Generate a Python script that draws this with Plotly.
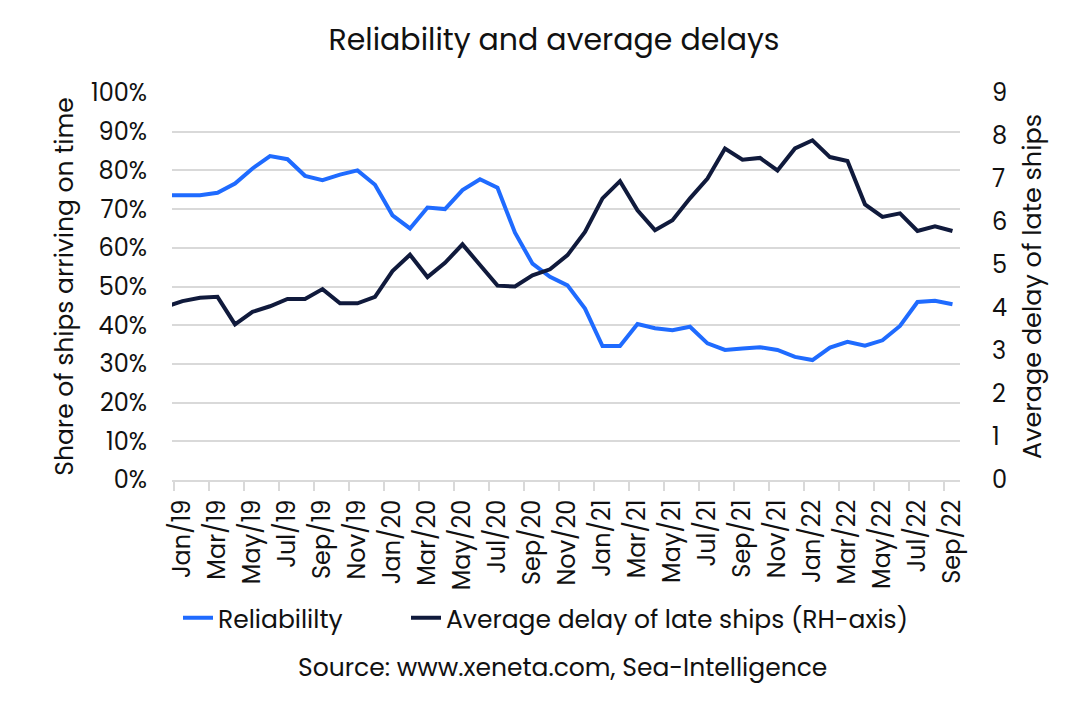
import plotly.graph_objects as go

# months on the category axis (Dec/18 sits just outside the left edge, the line runs into it)
months = ["Dec/18",
          "Jan/19", "Feb/19", "Mar/19", "Apr/19", "May/19", "Jun/19", "Jul/19", "Aug/19", "Sep/19", "Oct/19", "Nov/19", "Dec/19",
          "Jan/20", "Feb/20", "Mar/20", "Apr/20", "May/20", "Jun/20", "Jul/20", "Aug/20", "Sep/20", "Oct/20", "Nov/20", "Dec/20",
          "Jan/21", "Feb/21", "Mar/21", "Apr/21", "May/21", "Jun/21", "Jul/21", "Aug/21", "Sep/21", "Oct/21", "Nov/21", "Dec/21",
          "Jan/22", "Feb/22", "Mar/22", "Apr/22", "May/22", "Jun/22", "Jul/22", "Aug/22", "Sep/22"]

# share of ships arriving on time
reliability = [0.736,
               0.736, 0.736, 0.742, 0.766, 0.805, 0.837, 0.829, 0.786, 0.775, 0.789, 0.800, 0.763,
               0.684, 0.650, 0.704, 0.700, 0.749, 0.777, 0.755, 0.639, 0.559, 0.525, 0.503, 0.443,
               0.346, 0.346, 0.403, 0.392, 0.387, 0.396, 0.353, 0.336, 0.340, 0.343, 0.336, 0.318,
               0.310, 0.342, 0.357, 0.347, 0.361, 0.398, 0.460, 0.463, 0.454]

# average delay of late ships (days, right axis)
avg_delay = [4.02,
             4.16, 4.24, 4.26, 3.62, 3.91, 4.04, 4.21, 4.21, 4.44, 4.11, 4.11, 4.26,
             4.86, 5.24, 4.72, 5.05, 5.48, 5.00, 4.52, 4.50, 4.76, 4.90, 5.23, 5.77,
             6.55, 6.95, 6.27, 5.81, 6.04, 6.55, 7.01, 7.71, 7.45, 7.49, 7.20, 7.71,
             7.90, 7.51, 7.42, 6.41, 6.12, 6.20, 5.79, 5.90, 5.79]

label_months = months[1::2]

BLUE = "#1F6BFF"
NAVY = "#101A3C"
GRID = "#D9D9D9"
FONT = "Poppins, DejaVu Sans, sans-serif"

x = list(range(len(months)))
label_pos = [months.index(m) for m in label_months]

fig = go.Figure()
fig.add_trace(go.Scatter(x=x, y=reliability, name="Reliabililty", mode="lines", showlegend=True,
                         line=dict(color=BLUE, width=4), yaxis="y", legend="legend"))
fig.add_trace(go.Scatter(x=x, y=avg_delay, name="Average delay of late ships (RH-axis)", mode="lines",
                         showlegend=True, line=dict(color=NAVY, width=4), yaxis="y2", legend="legend2"))

legend_style = dict(orientation="h", xref="container", xanchor="left",
                    y=1 - 610 / 704, yref="container", yanchor="middle", font=dict(size=25))

fig.update_layout(
    width=1092, height=704,
    showlegend=True,
    paper_bgcolor="white", plot_bgcolor="white",
    font=dict(family=FONT, size=20, color="#111111"),
    margin=dict(l=164, r=140, t=85, b=232),
    title=dict(text="Reliability and average delays", x=0.5, xref="container", xanchor="center",
               y=1 - 31 / 704, yref="container", yanchor="middle", font=dict(size=30)),
    xaxis=dict(range=[0.4, 45.43], tickvals=label_pos, ticktext=label_months, tickangle=-90,
               ticks="", showgrid=False, zeroline=False, showline=True, linecolor=GRID, linewidth=2,
               minor=dict(ticks="outside", tick0=0.5, dtick=2, ticklen=9, tickwidth=2, tickcolor=GRID, showgrid=False),
               tickfont=dict(size=24), ticklabelstandoff=8, automargin=False),
    yaxis=dict(range=[0, 1], dtick=0.1, tickformat=".0%", showgrid=True, gridcolor=GRID, gridwidth=2,
               zeroline=False, title=dict(text="Share of ships arriving on time", standoff=10, font=dict(size=25)),
               tickfont=dict(size=24), ticklabelstandoff=24, automargin=False),
    yaxis2=dict(range=[0, 9], dtick=1, overlaying="y", side="right", showgrid=False, zeroline=False,
                title=dict(text="Average delay of late ships", standoff=16, font=dict(size=25.5)),
                tickfont=dict(size=24), ticklabelstandoff=31, automargin=False),
    legend=dict(x=170 / 1092, **legend_style),
    legend2=dict(x=398 / 1092, **legend_style),
    annotations=[dict(text="Source: www.xeneta.com, Sea-Intelligence", x=0.495, xref="paper",
                      y=(480 - 667) / 387, yref="paper", yanchor="middle", showarrow=False,
                      font=dict(size=25))],
)

fig.write_html("out.html")
